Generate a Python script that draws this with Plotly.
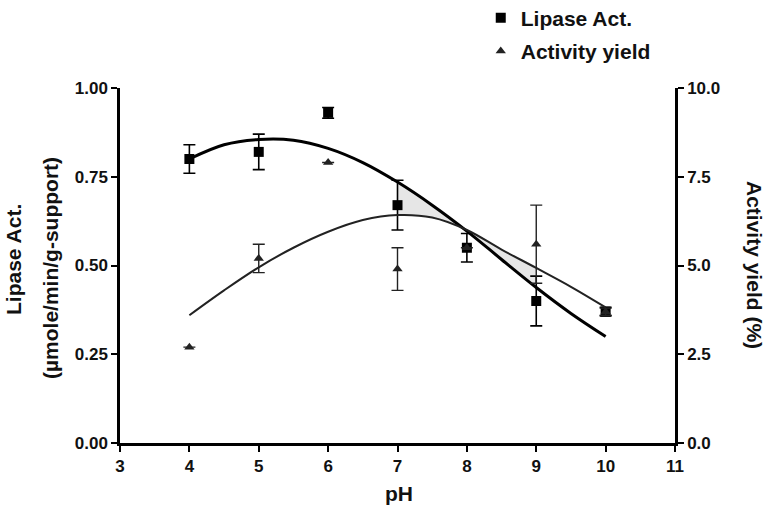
import plotly.graph_objects as go

NaN = float("nan")

# ---- data ----
ph = [4, 5, 6, 7, 8, 9, 10]
lipase_act = [0.80, 0.82, 0.93, 0.67, 0.55, 0.40, 0.37]
lipase_err = [0.04, 0.05, 0.015, 0.07, 0.04, 0.07, 0.012]
activity_yield = [2.7, 5.2, 7.9, 4.9, 5.5, 5.6, 3.7]
activity_err = [NaN, 0.4, NaN, 0.6, NaN, 1.1, 0.1]

# fitted curves
curve_ph = [4, 4.5, 5, 5.5, 6, 6.5, 7, 7.5, 8, 8.5, 9, 9.5, 10]
lipase_fit = [0.80, 0.84, 0.855, 0.853, 0.83, 0.79, 0.735, 0.67, 0.597, 0.517, 0.438, 0.365, 0.30]
yield_fit = [3.6, 4.3, 4.95, 5.5, 5.95, 6.28, 6.42, 6.35, 6.0, 5.45, 4.93, 4.4, 3.82]

x_ticks = [3, 4, 5, 6, 7, 8, 9, 10, 11]
left_ticks = [0.0, 0.25, 0.5, 0.75, 1.0]
right_ticks = [0.0, 2.5, 5.0, 7.5, 10.0]

FONT = "Liberation Sans, Arial, sans-serif"
TXT = "#111"

fig = go.Figure()

# shaded area between the two fits (on left-axis scale)
sub = slice(6, 11)
fig.add_trace(go.Scatter(x=curve_ph[sub], y=lipase_fit[sub], mode="lines",
                         line=dict(width=0, shape="spline", color="rgba(0,0,0,0)"),
                         showlegend=False, hoverinfo="skip"))
fig.add_trace(go.Scatter(x=curve_ph[sub], y=[v / 10 for v in yield_fit[sub]], mode="lines",
                         line=dict(width=0, shape="spline", color="rgba(0,0,0,0)"),
                         fill="tonexty", fillcolor="#e6e6e6",
                         showlegend=False, hoverinfo="skip"))

# fit lines
fig.add_trace(go.Scatter(x=curve_ph, y=lipase_fit, mode="lines",
                         line=dict(color="black", width=3, shape="spline"),
                         showlegend=False, hoverinfo="skip"))
fig.add_trace(go.Scatter(x=curve_ph, y=yield_fit, mode="lines", yaxis="y2",
                         line=dict(color="#222", width=2, shape="spline"),
                         showlegend=False, hoverinfo="skip"))

# data points
fig.add_trace(go.Scatter(x=ph, y=lipase_act, mode="markers", name="Lipase Act.",
                         legendgroup="a",
                         marker=dict(symbol="square", size=10, color="black"),
                         error_y=dict(type="data", array=lipase_err, color="black",
                                      thickness=1.6, width=6)))
fig.add_trace(go.Scatter(x=ph, y=activity_yield, mode="markers", name="Activity yield",
                         legendgroup="b", yaxis="y2",
                         marker=dict(symbol="triangle-up", size=9, color="#222"),
                         error_y=dict(type="data", array=activity_err, color="#222",
                                      thickness=1.4, width=6)))

axis_common = dict(showgrid=False, zeroline=False, showline=True, linecolor="black",
                   linewidth=2.5, ticks="outside", ticklen=6, tickwidth=2,
                   tickcolor="black",
                   tickfont=dict(family=FONT, size=17, color=TXT, weight="bold"))

title_font = dict(family=FONT, size=21, color=TXT, weight="bold")

fig.update_layout(
    width=766, height=506,
    margin=dict(l=120, r=91, t=88, b=63, autoexpand=False),
    plot_bgcolor="white", paper_bgcolor="white",
    xaxis=dict(range=[3, 11], tickvals=x_ticks, **axis_common),
    yaxis=dict(range=[0, 1], tickvals=left_ticks, tickformat=".2f", **axis_common),
    yaxis2=dict(range=[0, 10], tickvals=right_ticks, tickformat=".1f",
                overlaying="y", side="right", **axis_common),
    showlegend=True,
    legend=dict(x=0.65, y=1.255, xanchor="left", yanchor="top",
                traceorder="grouped", tracegroupgap=3,
                font=dict(family=FONT, size=21, color=TXT, weight="bold"),
                bgcolor="rgba(0,0,0,0)"),
    annotations=[
        dict(text="Lipase Act.", xref="paper", yref="paper",
             x=(13 - 120) / 555, y=(443 - 260) / 355, xanchor="center", yanchor="middle",
             textangle=-90, showarrow=False, font=title_font),
        dict(text="(µmole/min/g-support)", xref="paper", yref="paper",
             x=(50 - 120) / 555, y=(443 - 268) / 355, xanchor="center", yanchor="middle",
             textangle=-90, showarrow=False, font=title_font),
        dict(text="Activity yield (%)", xref="paper", yref="paper",
             x=(755 - 120) / 555, y=(443 - 265) / 355, xanchor="center", yanchor="middle",
             textangle=90, showarrow=False, font=title_font),
        dict(text="pH", xref="paper", yref="paper", x=(399 - 120) / 555, y=(443 - 493) / 355,
             xanchor="center", yanchor="middle", showarrow=False, font=title_font),
    ],
)

fig.write_html("out.html")
